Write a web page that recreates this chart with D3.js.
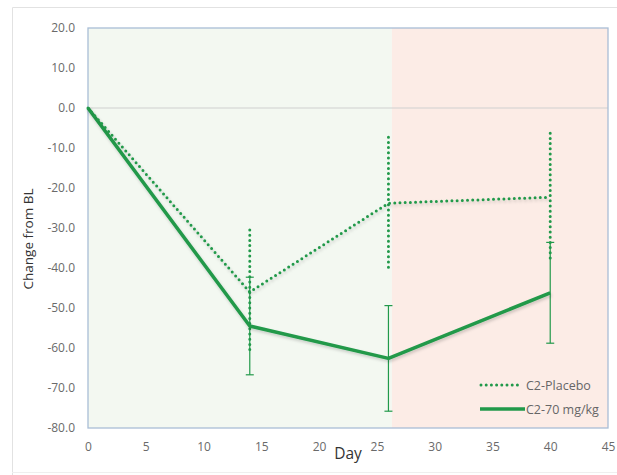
<!DOCTYPE html>
<html><head><meta charset="utf-8">
<script src="https://cdn.jsdelivr.net/npm/d3@7"></script>
<style>
html,body{margin:0;padding:0;background:#fff;}
svg text{font-family:"Open Sans","Noto Sans",sans-serif;}
</style></head>
<body><svg id="c" width="617" height="475"></svg>
<script>
const days = [0, 14, 26, 40];
const placebo = [0, -46.0, -23.8, -22.3];
const placeboErr = [0, 15.5, 16.5, 16.0];
const treated = [0, -54.5, -62.6, -46.2];
const treatedErr = [0, 12.2, 13.2, 12.6];
const xTicks = [0, 5, 10, 15, 20, 25, 30, 35, 40, 45];
const yTicks = [20, 10, 0, -10, -20, -30, -40, -50, -60, -70, -80];
const seriesNames = ["C2-Placebo", "C2-70 mg/kg"];
const shadeSplit = 26.3;

const svg = d3.select("#c");
const L = 88, R = 608, T = 28, B = 428;
const x = d3.scaleLinear().domain([0, 45]).range([L, R]);
const y = d3.scaleLinear().domain([-80, 20]).range([B, T]);
const green = "#21994a";

// outer frame
svg.append("path").attr("d", `M12.5,475 L12.5,7.5 L617,7.5`).attr("fill","none").attr("stroke","#e2e2e2");
svg.append("line").attr("x1",12).attr("x2",617).attr("y1",472.5).attr("y2",472.5).attr("stroke","#efefef");

// shading
svg.append("rect").attr("x", x(0)).attr("y", T).attr("width", x(shadeSplit)-x(0)).attr("height", B-T).attr("fill", "#f3f8f1");
svg.append("rect").attr("x", x(shadeSplit)).attr("y", T).attr("width", x(45)-x(shadeSplit)).attr("height", B-T).attr("fill", "#fcece6");

// zero line
svg.append("line").attr("x1", L).attr("x2", R).attr("y1", y(0)).attr("y2", y(0)).attr("stroke", "#cfcfcf").attr("stroke-width", 1.2);

// border
svg.append("rect").attr("x", L).attr("y", T).attr("width", R-L).attr("height", B-T).attr("fill","none").attr("stroke","#a9bed6").attr("stroke-width",1.3);

// axes
const yAxis = d3.axisLeft(y).tickValues(yTicks).tickSize(0).tickPadding(13).tickFormat(d => d.toFixed(1));
const gy = svg.append("g").attr("transform", `translate(${L},0)`).call(yAxis);
gy.select(".domain").remove();
gy.selectAll("text").attr("fill","#6a6a6a").style("font-size","12px").style("font-family",'"Open Sans",sans-serif');
const xAxis = d3.axisBottom(x).tickValues(xTicks).tickSize(0).tickPadding(14);
const gx = svg.append("g").attr("transform", `translate(0,${B})`).call(xAxis);
gx.select(".domain").remove();
gx.selectAll("text").attr("fill","#6a6a6a").style("font-size","12px").style("font-family",'"Open Sans",sans-serif');

// axis titles
svg.append("text").attr("x", 348).attr("y", 459).attr("text-anchor","middle").attr("fill","#333").style("font-size","15.5px").text("Day");
svg.append("text").attr("transform","translate(33,239) rotate(-90)").attr("text-anchor","middle").attr("fill","#333").style("font-size","13.5px").text("Change from BL");

// shadow filter
const defs = svg.append("defs");
const f = defs.append("filter").attr("id","sh").attr("x","-10%").attr("y","-10%").attr("width","120%").attr("height","120%");
f.append("feDropShadow").attr("dx",1).attr("dy",2).attr("stdDeviation",1.5).attr("flood-color","#000").attr("flood-opacity",0.18);

const line = d3.line().x(d => x(d[0])).y(d => y(d[1]));
const dots = "0,5.2";

// treated error bars
const eb = svg.append("g");
days.forEach((d, i) => {
  if (treatedErr[i] === 0) return;
  const lo = y(treated[i] - treatedErr[i]), hi = y(treated[i] + treatedErr[i]);
  eb.append("line").attr("x1", x(d)).attr("x2", x(d)).attr("y1", hi).attr("y2", lo).attr("stroke", green).attr("stroke-width", 1.2);
  [lo, hi].forEach(v => eb.append("line").attr("x1", x(d)-4).attr("x2", x(d)+4).attr("y1", v).attr("y2", v).attr("stroke", green).attr("stroke-width", 1.2));
});

// placebo error bars (dotted)
days.forEach((d, i) => {
  if (placeboErr[i] === 0) return;
  eb.append("line").attr("x1", x(d)).attr("x2", x(d))
    .attr("y1", y(placebo[i] + placeboErr[i])).attr("y2", y(placebo[i] - placeboErr[i]))
    .attr("stroke", green).attr("stroke-width", 3).attr("stroke-linecap","round").attr("stroke-dasharray", dots);
});

// lines
svg.append("path").datum(days.map((d,i)=>[d, treated[i]])).attr("d", line)
  .attr("fill","none").attr("stroke", green).attr("stroke-width", 3.5).attr("stroke-linejoin","round").attr("filter","url(#sh)");
svg.append("path").datum(days.map((d,i)=>[d, placebo[i]])).attr("d", line)
  .attr("fill","none").attr("stroke", green).attr("stroke-width", 3).attr("stroke-linecap","round").attr("stroke-dasharray", dots).attr("filter","url(#sh)");

// legend
const lg = svg.append("g");
lg.append("line").attr("x1", 481).attr("x2", 519).attr("y1", 385).attr("y2", 385).attr("stroke", green).attr("stroke-width", 3).attr("stroke-linecap","round").attr("stroke-dasharray", dots);
lg.append("text").attr("x", 526).attr("y", 389.5).attr("fill","#666").style("font-size","12.5px").text(seriesNames[0]);
lg.append("line").attr("x1", 480).attr("x2", 525).attr("y1", 409).attr("y2", 409).attr("stroke", green).attr("stroke-width", 3.5);
lg.append("text").attr("x", 526).attr("y", 413.5).attr("fill","#666").style("font-size","12.5px").text(seriesNames[1]);
</script></body></html>
